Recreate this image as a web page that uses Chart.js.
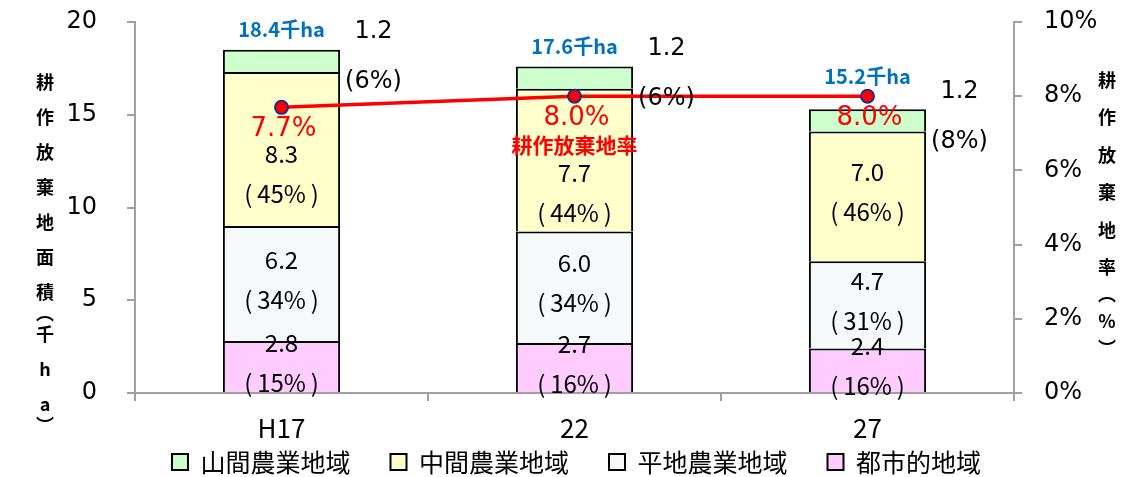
<!DOCTYPE html>
<html><head><meta charset="utf-8">
<script src="https://cdn.jsdelivr.net/npm/chart.js@4.4.1/dist/chart.umd.min.js"></script>
<style>html,body{margin:0;padding:0;background:#fff;} #wrap{width:1124px;height:477px;position:relative;}</style>
</head><body><div id="wrap"><canvas id="c"></canvas></div>
<script>
// ---- data ----
const categories = ['H17', '22', '27'];
const seriesNames = ['都市的地域', '平地農業地域', '中間農業地域', '山間農業地域'];
const urban = [2.8, 2.7, 2.4];
const flat = [6.2, 6.0, 4.7];
const middle = [8.3, 7.7, 7.0];
const mountain = [1.2, 1.2, 1.2];
const urbanPct = [15, 16, 16];
const flatPct = [34, 34, 31];
const middlePct = [45, 44, 46];
const mountainPct = [6, 6, 8];
const totals = [18.4, 17.6, 15.2];
const rateName = '耕作放棄地率';
const rate = [7.7, 8.0, 8.0];
const rateCaptionIndex = 1;
const areaTicks = [0, 5, 10, 15, 20];
const rateTicks = [0, 2, 4, 6, 8, 10];
const leftTitle = ['耕','作','放','棄','地','面','積','︵','千','h','a','︶'];
const rightTitle = ['耕','作','放','棄','地','率','︵','%','︶'];

const CJK = "'Noto Sans CJK JP', sans-serif";
const DV = "'DejaVu Sans', sans-serif";
const AXIS = '#A0A0A0';
const LEGEND_PAD = 40;
const LEGEND_FONT = 25;

function vtitle(ctx, chars, x, y0, step, small) {
  let y = y0, prev = null;
  chars.forEach(ch => {
    const h = /[︵︶]/.test(ch) ? small : step;
    if (prev !== null) y += (prev + h) / 2;
    ctx.fillText(ch, x, y);
    prev = h;
  });
}

const labelsPlugin = {
  id: 'labels',
  afterLayout(chart) {
    // place legend row so its text centre sits at y = 462
    const lg = chart.legend;
    lg.top = 462 - LEGEND_PAD - LEGEND_FONT / 2;
    lg.bottom = chart.height;
    lg.height = lg.bottom - lg.top;
  },
  afterDraw(chart) {
    const ctx = chart.ctx;
    const lineMeta = chart.getDatasetMeta(0);
    const metas = [1, 2, 3, 4].map(i => chart.getDatasetMeta(i));
    const vals = [urban, flat, middle, mountain];
    const pcts = [urbanPct, flatPct, middlePct, mountainPct];
    ctx.save();
    ctx.textAlign = 'center';
    ctx.textBaseline = 'middle';
    categories.forEach((c, i) => {
      const pt = lineMeta.data[i];
      const x = metas[0].data[i].x;
      // rate value
      ctx.fillStyle = '#FF0000';
      ctx.font = `26px ${DV}`;
      const ry = pt.y + 22;
      ctx.fillText(rate[i].toFixed(1) + '%', pt.x + 2, ry);
      let occupied = ry + 25;
      if (i === rateCaptionIndex) {
        ctx.font = `bold 21px ${CJK}`;
        ctx.fillText(rateName, pt.x, pt.y + 49);
        occupied = pt.y + 49 + 28;
      }
      // totals
      const topEl = metas[3].data[i];
      ctx.fillStyle = '#0070C0';
      ctx.font = `bold 20px ${CJK}`;
      ctx.fillText(totals[i].toFixed(1) + '千ha', x, Math.min(topEl.y, pt.y) - 20);
      // mountain (outside right)
      const mc = (topEl.y + topEl.base) / 2;
      ctx.fillStyle = '#000';
      ctx.font = `24px ${DV}`;
      ctx.fillText(mountain[i].toFixed(1), x + 92, mc - 29);
      ctx.fillText('(' + mountainPct[i] + '%)', x + 92, mc + 21);
      // inside labels
      ctx.font = `24px ${CJK}`;
      for (let s = 0; s < 3; s++) {
        const el = metas[s].data[i];
        const yc = (el.y + el.base) / 2;
        let vy = yc - 24;
        if (s === 2) vy = Math.max(vy, occupied);
        ctx.fillText(vals[s][i].toFixed(1), x, vy);
        ctx.fillText('(\u2009' + pcts[s][i] + '%\u2009)', x, vy + 40);
      }
    });
    // axis titles
    ctx.fillStyle = '#000';
    ctx.font = `bold 18px ${CJK}`;
    vtitle(ctx, leftTitle, 45, 82, 35, 7);
    vtitle(ctx, rightTitle, 1107, 80, 37.5, 16.5);
    ctx.restore();
  }
};

const barCommon = { borderColor: '#000', borderWidth: 2, barPercentage: 0.4, categoryPercentage: 1.0, yAxisID: 'y' };

new Chart(document.getElementById('c'), {
  type: 'bar',
  data: {
    labels: categories,
    datasets: [
      { type: 'line', label: rateName, data: rate, yAxisID: 'y1', borderColor: '#FF0000', borderWidth: 3.5,
        pointRadius: 6.5, pointBackgroundColor: '#FF0000', pointBorderColor: '#1F2F86', pointBorderWidth: 2, tension: 0, fill: false },
      Object.assign({ label: seriesNames[0], data: urban, backgroundColor: '#FFCCFF' }, barCommon),
      Object.assign({ label: seriesNames[1], data: flat, backgroundColor: '#F5F9F9' }, barCommon),
      Object.assign({ label: seriesNames[2], data: middle, backgroundColor: '#FFFFCC' }, barCommon),
      Object.assign({ label: seriesNames[3], data: mountain, backgroundColor: '#CCFFCC' }, barCommon)
    ]
  },
  options: {
    responsive: true, maintainAspectRatio: false, animation: false,
    layout: { padding: { left: 29, top: 22, right: 0, bottom: 0 } },
    plugins: {
      tooltip: { enabled: false },
      legend: {
        position: 'bottom', reverse: true, maxHeight: 20,
        labels: { filter: it => it.datasetIndex !== 0, boxWidth: 16, boxHeight: 16, padding: LEGEND_PAD,
          font: { family: CJK, size: LEGEND_FONT }, color: '#000' }
      }
    },
    scales: {
      x: {
        stacked: true, offset: true,
        grid: { offset: true, drawOnChartArea: false, tickLength: 8, color: AXIS, lineWidth: 2 },
        border: { color: AXIS, width: 2 },
        ticks: { font: { family: CJK, size: 26 }, color: '#000', padding: 12 },
        afterFit: s => { s.height = 64; }
      },
      y: {
        stacked: true, min: 0, max: 20,
        afterBuildTicks: s => { s.ticks = areaTicks.map(v => ({ value: v })); },
        grid: { drawOnChartArea: false, tickLength: 8, color: AXIS, lineWidth: 2 },
        border: { color: AXIS, width: 2 },
        ticks: { font: { family: DV, size: 24 }, color: '#000', padding: 30 },
        afterFit: s => { s.width = 106; s.paddingTop = 0; s.paddingBottom = 0; }
      },
      y1: {
        position: 'right', min: 0, max: 10,
        afterBuildTicks: s => { s.ticks = rateTicks.map(v => ({ value: v })); },
        grid: { drawOnChartArea: false, tickLength: 8, color: AXIS, lineWidth: 2 },
        border: { color: AXIS, width: 2 },
        ticks: { font: { family: DV, size: 24 }, color: '#000', padding: 22, callback: v => v + '%' },
        afterFit: s => { s.width = 110; s.paddingTop = 0; s.paddingBottom = 0; }
      }
    }
  },
  plugins: [labelsPlugin]
});
</script>
</body></html>
